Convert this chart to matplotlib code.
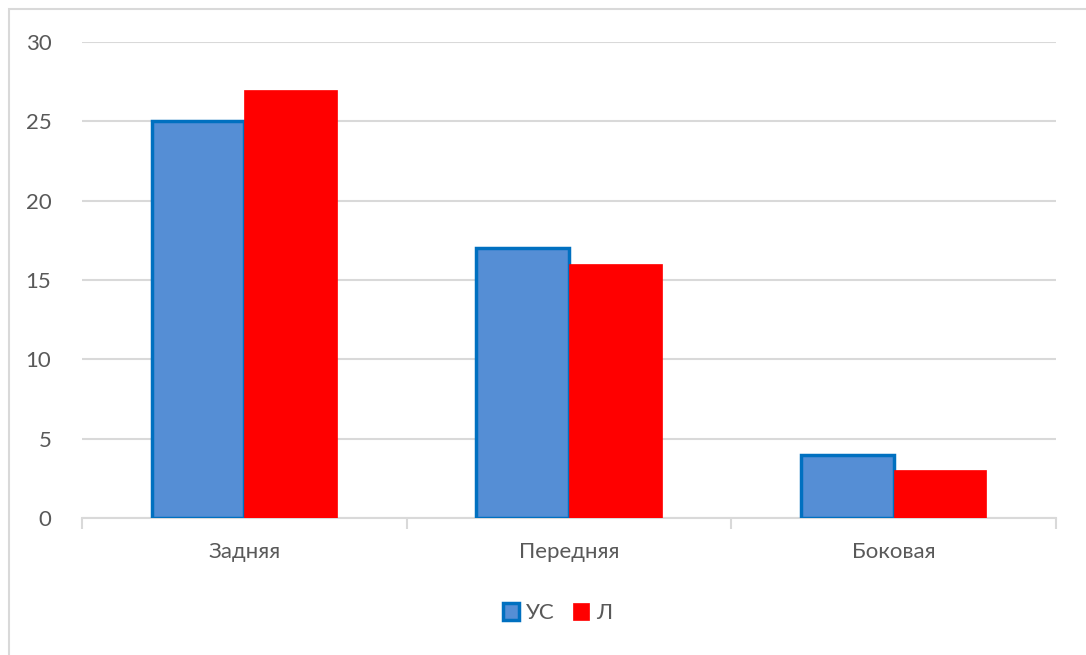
import numpy as np
import matplotlib.pyplot as plt
from matplotlib.patches import Rectangle

# данные
categorias = ["Задняя", "Передняя", "Боковая"]
serie_uc = [25, 17, 4]
serie_l = [27, 16, 3]
nombres = ["УС", "Л"]

plt.rcParams['font.family'] = ['Lato', 'DejaVu Sans']

fig = plt.figure(figsize=(10.86, 6.55), dpi=100)
ax = fig.add_axes([82 / 1086, 1 - 518 / 655, 974 / 1086, 476 / 655])

# marco del gráfico (solo arriba e izquierda visibles)
fig.patches.append(Rectangle((9 / 1086, -0.1), 1.2, (1 - 9 / 655) + 0.1,
                             transform=fig.transFigure, fill=False,
                             edgecolor='#d9d9d9', linewidth=1.5))

x = np.arange(len(categorias))
ancho = 0.285
ax.bar(x - ancho / 2, serie_uc, ancho, color='#558ed5', edgecolor='#0070c0',
       linewidth=2.5, label=nombres[0], zorder=3)
ax.bar(x + ancho / 2, serie_l, ancho, color='#ff0000', edgecolor='#ff0000',
       linewidth=0.5, label=nombres[1], zorder=3)

ax.set_xlim(-0.5, 2.5)
ax.set_ylim(0, 30)
ax.set_yticks(range(0, 31, 5))
ax.grid(axis='y', color='#d9d9d9', linewidth=1.5, zorder=0)

for lado in ['top', 'right', 'left']:
    ax.spines[lado].set_visible(False)
ax.spines['bottom'].set_color('#d9d9d9')
ax.spines['bottom'].set_linewidth(1.5)

fs = 16
ax.set_xticks(x)
ax.set_xticklabels(categorias)
ax.set_xticks([-0.5, 0.5, 1.5, 2.5], minor=True)
ax.tick_params(axis='x', which='major', length=0, pad=17, labelsize=fs,
               labelcolor='#595959')
ax.tick_params(axis='x', which='minor', length=8, width=1.5, color='#d9d9d9')
ax.tick_params(axis='y', length=0, pad=22, labelsize=fs, labelcolor='#595959')

leg = ax.legend(loc='center', bbox_to_anchor=(0.488, -0.2), ncol=2,
                frameon=False, fontsize=fs, handlelength=0.75,
                handleheight=0.75, handletextpad=0.3, columnspacing=0.8)
for t in leg.get_texts():
    t.set_color('#595959')

fig.savefig("out.png", dpi=100)
